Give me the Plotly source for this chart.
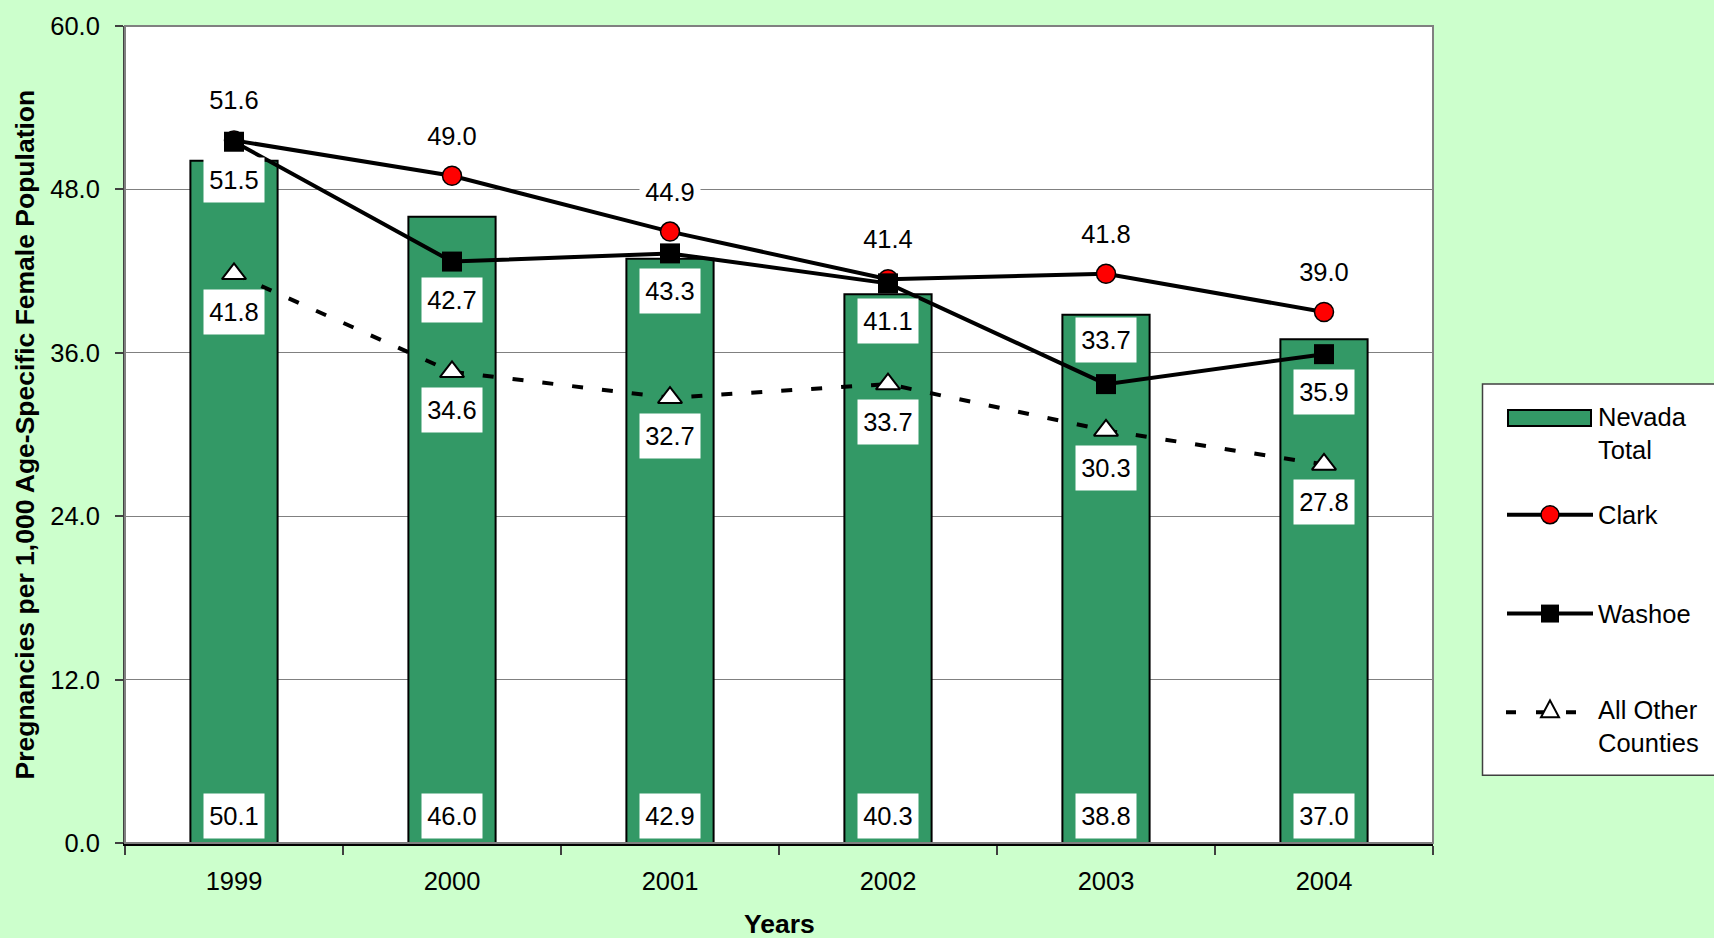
import plotly.graph_objects as go

# ---------------- data ----------------
years = ["1999", "2000", "2001", "2002", "2003", "2004"]
nevada_total = [50.1, 46.0, 42.9, 40.3, 38.8, 37.0]
clark = [51.6, 49.0, 44.9, 41.4, 41.8, 39.0]
washoe = [51.5, 42.7, 43.3, 41.1, 33.7, 35.9]
all_other = [41.8, 34.6, 32.7, 33.7, 30.3, 27.8]
washoe_label_side = ["below", "below", "below", "below", "above", "below"]
y_tick_values = [0, 12, 24, 36, 48, 60]
y_title = "Pregnancies per 1,000 Age-Specific Female Population"
x_title = "Years"
legend_labels = ["Nevada<br>Total", "Clark", "Washoe", "All Other<br>Counties"]

# ---------------- style ----------------
FONT = "Liberation Sans, Arial, sans-serif"
FS = 25.5
TFS = 26.5
BG = "#CCFFCC"
BAR = "#339966"
W, H = 1714, 938
L, R, T, B = 125, 1433, 24, 843


def px(x):
    return (x - L) / (R - L)


def py(y):
    return (B - y) / (B - T)


fig = go.Figure()

fig.add_trace(go.Bar(
    x=years, y=nevada_total, width=0.4, name="Nevada Total",
    marker=dict(color=BAR, line=dict(color="black", width=2)),
    showlegend=False, hoverinfo="skip",
))
fig.add_trace(go.Scatter(
    x=years, y=all_other, mode="lines+markers", name="All Other Counties",
    line=dict(color="black", width=4, dash="11px,19px"),
    marker=dict(symbol="triangle-up", size=21, color="white",
                line=dict(color="black", width=2)),
    showlegend=False, hoverinfo="skip",
))
fig.add_trace(go.Scatter(
    x=years, y=clark, mode="lines+markers", name="Clark",
    line=dict(color="black", width=4),
    marker=dict(symbol="circle", size=19, color="red",
                line=dict(color="black", width=1.5)),
    showlegend=False, hoverinfo="skip",
))
fig.add_trace(go.Scatter(
    x=years, y=washoe, mode="lines+markers", name="Washoe",
    line=dict(color="black", width=4),
    marker=dict(symbol="square", size=20, color="black"),
    showlegend=False, hoverinfo="skip",
))

annotations = []


def box_label(idx, yv, shift, val):
    annotations.append(dict(
        x=idx, y=yv, xref="x", yref="y", yshift=shift,
        text=f"{val:.1f}",
        showarrow=False, bgcolor="white", width=60, height=44,
        borderpad=0, font=dict(family=FONT, size=FS, color="black"),
    ))


for i in range(len(years)):
    box_label(i, clark[i], 40, clark[i])
    box_label(i, washoe[i], 44 if washoe_label_side[i] == "above" else -38, washoe[i])
    box_label(i, all_other[i], -38, all_other[i])
    box_label(i, 0, 27, nevada_total[i])

# axis titles
annotations.append(dict(
    x=px(24), y=0.5, xref="paper", yref="paper", text=f"<b>{y_title}</b>",
    textangle=-90, showarrow=False, xanchor="center", yanchor="middle",
    font=dict(family=FONT, size=TFS, color="black"),
))
annotations.append(dict(
    x=0.5, y=py(924), xref="paper", yref="paper", text=f"<b>{x_title}</b>",
    showarrow=False, xanchor="center", yanchor="middle",
    font=dict(family=FONT, size=TFS, color="black"),
))

# legend texts
legend_text_y = [432, 514, 613, 726]
for lab, ty in zip(legend_labels, legend_text_y):
    annotations.append(dict(
        x=px(1596), y=py(ty), xref="paper", yref="paper", text=lab,
        showarrow=False, xanchor="left", yanchor="middle", align="left",
        font=dict(family=FONT, size=FS, color="black"),
    ))

shapes = [
    # plot border (top & right in gray)
    dict(type="rect", xref="paper", yref="paper", x0=0, x1=1, y0=0, y1=1,
         line=dict(color="#808080", width=2), layer="above"),
    # legend box
    dict(type="rect", xref="paper", yref="paper",
         x0=px(1482.5), x1=px(1760), y0=py(775), y1=py(383),
         line=dict(color="#404040", width=1.5), fillcolor="white"),
    # Nevada total sample
    dict(type="rect", xref="paper", yref="paper",
         x0=px(1508), x1=px(1591), y0=py(425), y1=py(409),
         line=dict(color="black", width=2), fillcolor=BAR),
    # Clark sample
    dict(type="line", xref="paper", yref="paper",
         x0=px(1507), x1=px(1593), y0=py(514), y1=py(514),
         line=dict(color="black", width=4)),
    dict(type="circle", xref="paper", yref="paper",
         x0=px(1541), x1=px(1559), y0=py(523), y1=py(505),
         line=dict(color="black", width=1.5), fillcolor="red"),
    # Washoe sample
    dict(type="line", xref="paper", yref="paper",
         x0=px(1507), x1=px(1593), y0=py(613), y1=py(613),
         line=dict(color="black", width=4)),
    dict(type="rect", xref="paper", yref="paper",
         x0=px(1541), x1=px(1559), y0=py(622), y1=py(604),
         line=dict(color="black", width=0), fillcolor="black"),
    # All other sample
    dict(type="line", xref="paper", yref="paper",
         x0=px(1506), x1=px(1580), y0=py(712), y1=py(712),
         line=dict(color="black", width=4, dash="10px,20px")),
    dict(type="path", xref="paper", yref="paper",
         path=f"M {px(1541)},{py(717)} L {px(1559)},{py(717)} L {px(1550)},{py(700)} Z",
         line=dict(color="black", width=2), fillcolor="white"),
]

fig.update_layout(
    width=W, height=H,
    margin=dict(l=L, r=W - R, t=T, b=H - B, pad=0),
    paper_bgcolor=BG, plot_bgcolor="white",
    font=dict(family=FONT, size=FS, color="black"),
    showlegend=False, bargap=0.6,
    annotations=annotations, shapes=shapes,
    xaxis=dict(
        type="category", categoryorder="array", categoryarray=years,
        range=[-0.5, 5.5], showgrid=False, showline=True,
        linecolor="black", linewidth=2.5, ticks="outside", ticklen=9,
        tickwidth=1.5, tickcolor="#404040", tickson="boundaries",
        ticklabelstandoff=14, zeroline=False,
        tickfont=dict(family=FONT, size=FS, color="black"),
    ),
    yaxis=dict(
        range=[0, 60], tickmode="array", tickvals=y_tick_values,
        tickformat=".1f", showgrid=True, gridcolor="#808080", gridwidth=1.2,
        showline=True, linecolor="#404040", linewidth=2, ticks="outside",
        ticklen=8, tickwidth=1.5, tickcolor="#404040", zeroline=False,
        ticklabelstandoff=10,
        tickfont=dict(family=FONT, size=FS, color="black"),
    ),
)

fig.write_html(
    "out.html",
    config={"displayModeBar": False},
    post_script="document.body.style.margin='0';document.body.style.overflow='hidden';",
)
